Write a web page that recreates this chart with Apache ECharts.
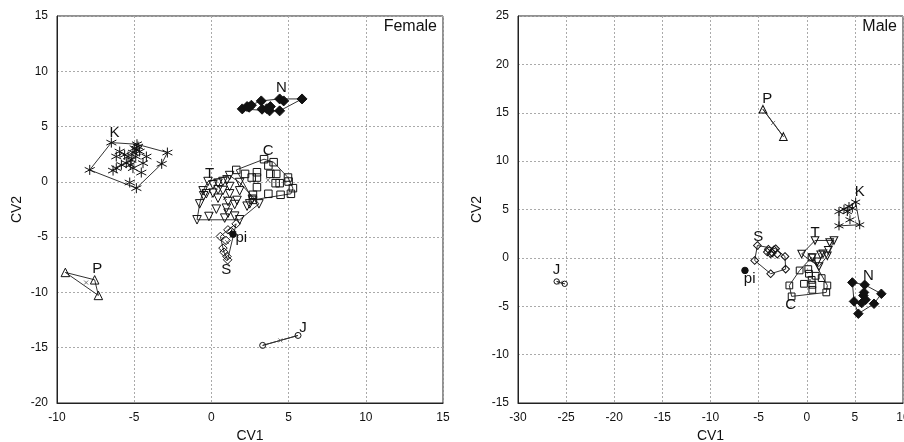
<!DOCTYPE html>
<html><head><meta charset="utf-8">
<script src="https://cdn.jsdelivr.net/npm/echarts@6/dist/echarts.min.js"></script>
<style>html,body{margin:0;padding:0;background:#fff}#c{width:904px;height:442px}</style>
</head><body><div id="c"></div>
<script>
// ---------- Female panel data (CV1, CV2) ----------
const femaleN = [[2.0,6.6],[2.31,6.81],[2.59,6.93],[3.23,7.32],[3.28,6.57],[3.77,6.42],[3.82,6.81],[4.42,7.5],[4.42,6.42],[4.68,7.32],[5.87,7.5],[2.45,6.75],[3.6,6.62]];
const femaleK = [[-6.48,3.55],[-4.82,3.4],[-2.85,2.65],[-3.22,1.63],[-4.86,-0.57],[-5.29,-0.06],[-7.88,1.08],
  [-6.16,2.29],[-5.94,2.74],[-5.62,2.44],[-5.4,2.29],[-5.08,2.65],[-4.86,2.89],[-4.75,3.19],[-4.65,2.74],[-4.9,2.29],
  [-5.19,1.99],[-5.51,1.69],[-5.83,1.54],[-6.16,1.24],[-6.37,1.02],[-5.08,1.24],[-4.43,1.69],[-4.54,0.84],[-4.21,2.29],[-5.25,1.54],[-4.97,3.04]];
const femaleC = [[1.61,1.08],[2.18,0.72],[2.61,0.39],[2.95,0.39],[2.95,0.87],[3.41,2.05],[3.69,1.48],[4.03,1.78],[3.82,0.72],[4.2,0.72],
  [4.16,-0.12],[4.42,-0.12],[4.96,0.39],[5.0,0.03],[5.28,-0.57],[5.15,-1.08],[4.48,-1.17],[3.69,-1.08],[2.95,-0.48],[2.69,-1.17],[2.69,-1.63]];
const femaleT = [[-0.93,-3.43],[-0.76,-1.99],[-0.54,-0.81],[-0.22,0.03],[0.1,-0.27],[0.43,-0.12],[0.75,0.03],[1.18,0.57],[1.01,0.18],[1.83,-0.06],
  [1.83,-0.81],[0.1,-1.02],[0.43,-1.48],[0.75,-0.78],[1.18,-1.08],[1.08,-1.78],[0.43,-0.72],[-0.33,-1.08],[0.32,-2.47],[-0.16,-3.13],
  [0.97,-2.38],[1.08,-2.83],[0.86,-3.28],[1.51,-2.05],[1.83,-3.43],[1.51,-3.1],[2.48,-1.99],[3.08,-1.99],[2.65,-1.57],[2.31,-2.2],[1.66,-1.68],[1.18,-0.42],[-0.5,-1.26]];
const femaleS = [[1.07,-4.34],[0.58,-4.94],[0.95,-5.3],[0.75,-5.99],[0.82,-6.36],[1.01,-6.75],[1.05,-7.05],[1.6,-3.8],[1.3,-4.5]];
const femaleP = [[-9.46,-8.19],[-7.56,-8.86],[-7.32,-10.27]];
const femaleJ = [[3.32,-14.79],[5.61,-13.89]];
const femalePi = [[1.4,-4.73]];
const femaleLabels = [['K',-6.27,4.4],['N',4.53,8.46],['C',3.67,2.83],['T',-0.11,0.72],['pi',1.94,-5.09],['S',0.97,-7.95],['P',-7.39,-7.89],['J',5.93,-13.16]];

// ---------- Male panel data (CV1, CV2) ----------
const maleN = [[4.74,-2.54],[6.02,-2.78],[7.75,-3.71],[6.99,-4.74],[5.36,-5.77],[4.91,-4.5],[5.88,-3.88],[6.12,-4.33],[5.71,-4.67],[5.95,-3.57]];
const maleK = [[3.35,4.79],[3.87,5.03],[4.39,5.31],[5.08,5.76],[5.5,3.42],[3.35,3.31],[4.49,3.93],[4.22,4.79],[4.74,5.14]];
const maleC = [[-1.81,-2.85],[-1.57,-3.98],[2.03,-3.57],[2.14,-2.85],[-0.74,-1.3],[0.16,-1.16],[0.23,-1.64],[-0.29,-2.68],[0.58,-2.78],[0.58,-3.3],[0.51,-2.27],[0.93,-1.85],[1.55,-2.09],[0.5,0.04]];
const maleT = [[0.86,1.8],[2.83,1.8],[2.38,1.59],[-0.53,0.39],[0.58,0.04],[1.45,0.32],[1.69,0.42],[2.14,0.21],[2.24,0.77],[1.27,-0.89],[1.1,-0.4]];
const maleS = [[-5.13,1.28],[-5.41,-0.27],[-3.75,-1.64],[-2.19,-1.16],[-2.26,0.15],[-3.23,0.94],[-3.58,0.5],[-3.75,0.42],[-3.4,0.84],[-4.1,0.6],[-3.99,0.9],[-3.06,0.39]];
const maleP = [[-4.55,15.36],[-2.43,12.54]];
const maleJ = [[-25.98,-2.44],[-25.15,-2.68]];
const malePi = [[-6.42,-1.3]];
const maleLabels = [['P',-4.1,16.4],['J',-26.0,-1.23],['pi',-5.93,-2.2],['K',5.5,6.86],['S',-5.03,2.21],['T',0.86,2.56],['C',-1.67,-4.85],['N',6.4,-1.85]];

// ---------- axis ticks ----------
const femaleX = {min:-10, max:15, interval:5};
const femaleY = {min:-20, max:15, interval:5};
const maleX = {min:-30, max:10, interval:5};
const maleY = {min:-15, max:25, interval:5};

// ---------- helpers ----------
function hull(pts){
  const p = pts.slice().sort((a,b)=>a[0]-b[0]||a[1]-b[1]);
  if (p.length < 3) return p.concat([p[0]]);
  const cross=(o,a,b)=>(a[0]-o[0])*(b[1]-o[1])-(a[1]-o[1])*(b[0]-o[0]);
  const lo=[],up=[];
  for(const q of p){while(lo.length>=2&&cross(lo[lo.length-2],lo[lo.length-1],q)<=0)lo.pop();lo.push(q);}
  for(let i=p.length-1;i>=0;i--){const q=p[i];while(up.length>=2&&cross(up[up.length-2],up[up.length-1],q)<=0)up.pop();up.push(q);}
  up.pop(); lo.pop();
  const h = lo.concat(up); h.push(h[0]); return h;
}
function mean(pts){let sx=0,sy=0;pts.forEach(p=>{sx+=p[0];sy+=p[1];});return [sx/pts.length,sy/pts.length];}

const SYM = {
  asterisk:'path://M0,-5L0,5M-4.33,-2.5L4.33,2.5M-4.33,2.5L4.33,-2.5',
  down:'path://M0,0L10,0L5,8.66Z',
  cross:'path://M0,0L10,10M0,10L10,0'
};
const INK = '#111';
const FONT = 'Liberation Sans, Arial, sans-serif';
function styleFor(kind){
  switch(kind){
    case 'N': return {symbol:'diamond', size:10, fill:INK};
    case 'K': return {symbol:SYM.asterisk, size:10, fill:'rgba(0,0,0,0)'};
    case 'C': return {symbol:'rect', size:7.5, fill:'rgba(0,0,0,0)'};
    case 'T': return {symbol:SYM.down, size:8.5, fill:'rgba(0,0,0,0)'};
    case 'S': return {symbol:'diamond', size:8.5, fill:'rgba(0,0,0,0)'};
    case 'P': return {symbol:'triangle', size:8.5, fill:'rgba(0,0,0,0)'};
    case 'J': return {symbol:'circle', size:6, fill:'rgba(0,0,0,0)'};
    case 'pi': return {symbol:'circle', size:6.5, fill:INK};
  }
}
const series = [];
function addGroup(pts, kind, gi, scale){
  const st = styleFor(kind);
  if (pts.length > 1) {
    series.push({type:'line', xAxisIndex:gi, yAxisIndex:gi, data:hull(pts), symbol:'none', silent:true,
      lineStyle:{color:'#333', width:1}, z:2, animation:false});
    series.push({type:'scatter', xAxisIndex:gi, yAxisIndex:gi, data:[mean(pts)], symbol:SYM.cross, symbolSize:4,
      itemStyle:{color:'rgba(0,0,0,0)', borderColor:'#555', borderWidth:1}, z:3, animation:false, silent:true});
  }
  series.push({type:'scatter', xAxisIndex:gi, yAxisIndex:gi, data:pts, symbol:st.symbol, symbolSize:st.size*scale,
    itemStyle:{color:st.fill, borderColor:INK, borderWidth:1, opacity:1}, z:4, animation:false, silent:true});
}
addGroup(femaleN,'N',0,1); addGroup(femaleK,'K',0,1); addGroup(femaleC,'C',0,1); addGroup(femaleT,'T',0,1);
addGroup(femaleS,'S',0,1); addGroup(femaleP,'P',0,1); addGroup(femaleJ,'J',0,1); addGroup(femalePi,'pi',0,1);
addGroup(maleN,'N',1,0.95); addGroup(maleK,'K',1,0.9); addGroup(maleC,'C',1,0.9); addGroup(maleT,'T',1,0.9);
addGroup(maleS,'S',1,0.9); addGroup(maleP,'P',1,0.9); addGroup(maleJ,'J',1,0.9); addGroup(malePi,'pi',1,1);

function addLabels(arr, gi){
  series.push({type:'scatter', xAxisIndex:gi, yAxisIndex:gi, symbolSize:0,
    itemStyle:{color:'#111', opacity:1},
    data:arr.map(a=>({name:a[0], value:[a[1],a[2]]})),
    label:{show:true, position:'inside', formatter:'{b}', fontSize:15, color:'#111', opacity:1, textBorderWidth:0, fontFamily:FONT},
    z:6, animation:false, silent:true});
}
addLabels(femaleLabels,0); addLabels(maleLabels,1);

function axisCommon(r, gi, name, gap){
  return {type:'value', gridIndex:gi, min:r.min, max:r.max, interval:r.interval, name:name, nameLocation:'middle', nameGap:gap,
    nameTextStyle:{fontSize:14, color:'#111', fontFamily:FONT},
    axisLine:{show:true, onZero:false, lineStyle:{color:'#222', width:1}}, axisTick:{show:false},
    axisLabel:{fontSize:12, color:'#111', margin:9, showMinLabel:true, showMaxLabel:true, fontFamily:FONT},
    splitLine:{show:true, lineStyle:{color:'#aaa', type:[2,2], width:1}}};
}
const chart = echarts.init(document.getElementById('c'), null, {renderer:'canvas'});
chart.setOption({
  backgroundColor:'#fff',
  animation:false,
  title:[
    {text:'Female', right:467, top:19, padding:0, textStyle:{fontSize:16, fontWeight:'normal', color:'#111', fontFamily:FONT}},
    {text:'Male', right:7, top:19, padding:0, textStyle:{fontSize:16, fontWeight:'normal', color:'#111', fontFamily:FONT}}
  ],
  grid:[
    {left:57, top:16, width:386, height:387, show:true, borderColor:'#222', borderWidth:1, backgroundColor:'rgba(0,0,0,0)', containLabel:false, outerBoundsMode:'none'},
    {left:518, top:16, width:385, height:387, show:true, borderColor:'#222', borderWidth:1, backgroundColor:'rgba(0,0,0,0)', containLabel:false, outerBoundsMode:'none'}
  ],
  xAxis:[axisCommon(femaleX,0,'CV1',23), axisCommon(maleX,1,'CV1',26)],
  yAxis:[axisCommon(femaleY,0,'CV2',33), axisCommon(maleY,1,'CV2',34)],
  series: series
});
</script></body></html>
